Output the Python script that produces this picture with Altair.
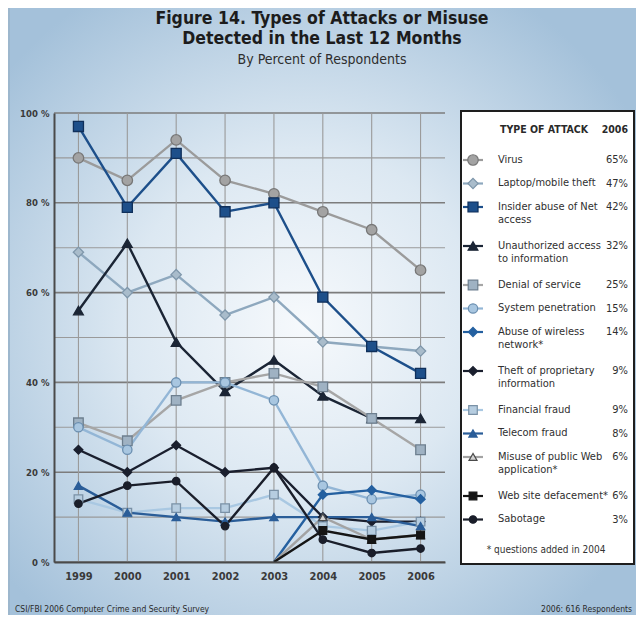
import altair as alt
import pandas as pd

# ---------------- data ----------------
years = [1999, 2000, 2001, 2002, 2003, 2004, 2005, 2006]
series_names = [
    "Virus", "Laptop/mobile theft", "Insider abuse of Net access",
    "Unauthorized access to information", "Denial of service",
    "System penetration", "Abuse of wireless network*",
    "Theft of proprietary information", "Financial fraud", "Telecom fraud",
    "Misuse of public Web application*", "Web site defacement*", "Sabotage",
]
legend_labels = [
    "Virus", "Laptop/mobile theft", "Insider abuse of Net\naccess",
    "Unauthorized access\nto information", "Denial of service",
    "System penetration", "Abuse of wireless\nnetwork*",
    "Theft of proprietary\ninformation", "Financial fraud", "Telecom fraud",
    "Misuse of public Web\napplication*", "Web site defacement*", "Sabotage",
]
N = None
virus        = [90, 85, 94, 85, 82, 78, 74, 65]
laptop       = [69, 60, 64, 55, 59, 49, 48, 47]
insider      = [97, 79, 91, 78, 80, 59, 48, 42]
unauthorized = [56, 71, 49, 38, 45, 37, 32, 32]
dos          = [31, 27, 36, 40, 42, 39, 32, 25]
penetration  = [30, 25, 40, 40, 36, 17, 14, 15]
wireless     = [N, N, N, N, 0, 15, 16, 14]
proprietary  = [25, 20, 26, 20, 21, 10, 9, 9]
financial    = [14, 11, 12, 12, 15, 8, 7, 9]
telecom      = [17, 11, 10, 9, 10, 10, 10, 8]
misuse_web   = [N, N, N, N, 0, 10, 5, 6]
defacement   = [N, N, N, N, 0, 7, 5, 6]
sabotage     = [13, 17, 18, 8, 21, 5, 2, 3]
values_2006 = ["65%", "47%", "42%", "32%", "25%", "15%", "14%", "9%", "9%", "8%", "6%", "6%", "3%"]
y_ticks = [0, 10, 20, 30, 40, 50, 60, 70, 80, 90, 100]

all_series = [virus, laptop, insider, unauthorized, dos, penetration, wireless,
              proprietary, financial, telecom, misuse_web, defacement, sabotage]

# ---------------- styles ----------------
line_colors = ["#9b9b9b", "#8ea8be", "#1d4f8a", "#1b2535", "#a6a6a6", "#93b6d6",
               "#2460a0", "#1a1f2e", "#a9c8e2", "#2a5d98", "#a3a3a3", "#151515", "#1a1e2a"]
fill_colors = ["#a3a3a3", "#a9bccb", "#1d4f8a", "#1b2535", "#9fb2c3", "#a8c6e0",
               "#2460a0", "#1a1f2e", "#b6cde0", "#2a5d98", "#d3d3d3", "#151515", "#1a1e2a"]
edge_colors = ["#777777", "#7f97ab", "#0f2f5a", "#1b2535", "#6d7f8f", "#6b8fb0",
               "#2460a0", "#1a1f2e", "#7a91a6", "#2a5d98", "#4a4a4a", "#151515", "#1a1e2a"]
shapes = ["circle", "diamond", "square", "triangle-up", "square", "circle", "diamond",
          "diamond", "square", "triangle-up", "triangle-up", "square", "circle"]
sizes = [110, 55, 120, 90, 115, 115, 60, 55, 110, 80, 80, 100, 100]

FONT = "Liberation Sans Narrow, DejaVu Sans Condensed, Arial Narrow, sans-serif"

rows = []
for name, vals in zip(series_names, all_series):
    for yr, v in zip(years, vals):
        if v is not None:
            rows.append({"series": name, "year": yr, "value": v})
df = pd.DataFrame(rows)

W, H = 391, 449
xscale = alt.Scale(domain=[1998.5, 2006.5], nice=False, zero=False)
yscale = alt.Scale(domain=[0, 100], nice=False, zero=False)

ax_x = alt.Axis(values=years, format="d", title=None, grid=False, ticks=False,
                domainColor="#4a4a4a", domainWidth=2, labelFont=FONT, labelFontWeight="bold",
                labelFontSize=11, labelColor="#3a3a3a", labelPadding=8, zindex=1)
ax_y = alt.Axis(values=y_ticks, title=None, grid=False, ticks=False,
                labelExpr="datum.value % 20 == 0 ? datum.value + ' %' : ''",
                domainColor="#4a4a4a", domainWidth=2, labelFont=FONT, labelFontWeight="bold",
                labelFontSize=9.5, labelColor="#3a3a3a", labelPadding=5, zindex=1)

color_enc = alt.Color("series:N", scale=alt.Scale(domain=series_names, range=line_colors), legend=None)
fill_enc = alt.Fill("series:N", scale=alt.Scale(domain=series_names, range=fill_colors), legend=None)
stroke_enc = alt.Stroke("series:N", scale=alt.Scale(domain=series_names, range=edge_colors), legend=None)
shape_enc = alt.Shape("series:N", scale=alt.Scale(domain=series_names, range=shapes), legend=None)
size_enc = alt.Size("series:O", scale=alt.Scale(domain=series_names, range=sizes), legend=None)

# background gradient covering the whole canvas
bg = alt.Chart(pd.DataFrame({"a": [0]})).mark_rect(
    fill={"gradient": "radial", "x1": 0.47, "y1": 0.52, "r1": 0.0,
          "x2": 0.47, "y2": 0.52, "r2": 0.62,
          "stops": [{"offset": 0, "color": "#f6f9fc"},
                    {"offset": 0.45, "color": "#dce8f2"},
                    {"offset": 1, "color": "#a4c1da"}]}
).encode(x=alt.value(-46), x2=alt.value(582), y=alt.value(-105), y2=alt.value(502))

left_strip = alt.Chart(pd.DataFrame({"a": [0]})).mark_rect(color="#9db7cd").encode(
    x=alt.value(-46), x2=alt.value(-44), y=alt.value(-105), y2=alt.value(502))

hgrid = alt.Chart(pd.DataFrame({"value": y_ticks})).mark_rule().encode(
    y=alt.Y("value:Q", scale=yscale, axis=ax_y),
    color=alt.condition("datum.value % 20 == 0", alt.value("#7c7c7c"), alt.value("#9a9a9a")),
    strokeWidth=alt.condition("datum.value % 20 == 0", alt.value(1.6), alt.value(1.1)),
)
vgrid = alt.Chart(pd.DataFrame({"year": years})).mark_rule(color="#9a9a9a", strokeWidth=1.1).encode(
    x=alt.X("year:Q", scale=xscale, axis=ax_x))

lines = alt.Chart(df).mark_line(strokeWidth=2.4).encode(
    x=alt.X("year:Q", scale=xscale, axis=ax_x),
    y=alt.Y("value:Q", scale=yscale, axis=ax_y),
    color=color_enc,
    detail="series:N",
    order="year:Q",
)
points = alt.Chart(df).transform_filter("datum.value > 0").mark_point(
    filled=True, opacity=1, strokeWidth=1.3).encode(
    x=alt.X("year:Q", scale=xscale, axis=ax_x),
    y=alt.Y("value:Q", scale=yscale, axis=ax_y),
    fill=fill_enc, stroke=stroke_enc, shape=shape_enc, size=size_enc,
)

main = alt.layer(bg, left_strip, hgrid, vgrid, lines, points)

# ---------------- legend panel ----------------
n_lines = [lbl.count("\n") + 1 for lbl in legend_labels]
ly = []
pos = 47.0
for k in n_lines:
    ly.append(pos)
    pos += 23.5 if k == 1 else 39.0
leg = pd.DataFrame({"series": series_names, "label": legend_labels,
                    "v2006": values_2006, "ly": ly})
lscale = alt.Scale(domain=[0, H], range=[0, H], nice=False, zero=False)

box = alt.Chart(pd.DataFrame({"a": [0]})).mark_rect(
    fill="white", stroke="#1e1e1e", strokeWidth=2).encode(
    x=alt.value(407), x2=alt.value(580), y=alt.value(-2), y2=alt.value(451))

hdr = alt.Chart(pd.DataFrame({"t": ["TYPE OF ATTACK"]})).mark_text(
    font=FONT, fontSize=10.5, fontWeight="bold", color="#2a2a2a", align="left", baseline="middle"
).encode(text="t:N", x=alt.value(446), y=alt.value(17))
hdr2 = alt.Chart(pd.DataFrame({"t": ["2006"]})).mark_text(
    font=FONT, fontSize=10.5, fontWeight="bold", color="#2a2a2a", align="right", baseline="middle"
).encode(text="t:N", x=alt.value(574), y=alt.value(17))
foot_note = alt.Chart(pd.DataFrame({"t": ["* questions added in 2004"]})).mark_text(
    font=FONT, fontSize=10, color="#333333", align="center", baseline="middle"
).encode(text="t:N", x=alt.value(492), y=alt.value(437))

lrule = alt.Chart(leg).mark_rule(strokeWidth=2.2).encode(
    x=alt.value(409), x2=alt.value(429),
    y=alt.Y("ly:Q", scale=lscale, axis=None), color=color_enc)
lpoint = alt.Chart(leg).mark_point(filled=True, opacity=1, strokeWidth=1.2).encode(
    x=alt.value(419), y=alt.Y("ly:Q", scale=lscale, axis=None),
    fill=fill_enc, stroke=stroke_enc, shape=shape_enc,
    size=alt.Size("series:O", scale=alt.Scale(domain=series_names, range=[s * 0.7 for s in sizes]), legend=None))
ltext = alt.Chart(leg).mark_text(
    font=FONT, fontSize=11, color="#2f2f2f", align="left", baseline="top",
    lineBreak="\n", lineHeight=13.5, dy=-6.5).encode(
    x=alt.value(444), y=alt.Y("ly:Q", scale=lscale, axis=None), text="label:N")
lval = alt.Chart(leg).mark_text(
    font=FONT, fontSize=11, color="#2f2f2f", align="right", baseline="middle").encode(
    x=alt.value(574), y=alt.Y("ly:Q", scale=lscale, axis=None), text="v2006:N")

legend_layer = alt.layer(box, hdr, hdr2, foot_note, lrule, lpoint, ltext, lval)

# ---------------- titles & footer ----------------
def txt(s, x, y, size, weight="normal", align="center", color="#1c1c1c"):
    return alt.Chart(pd.DataFrame({"t": [s]})).mark_text(
        font=FONT, fontSize=size, fontWeight=weight, color=color, align=align, baseline="middle"
    ).encode(text="t:N", x=alt.value(x), y=alt.value(y))

titles = alt.layer(
    txt("Figure 14. Types of Attacks or Misuse", 268, -94, 17.5, "bold"),
    txt("Detected in the Last 12 Months", 268, -74, 17.5, "bold"),
    txt("By Percent of Respondents", 268, -53, 14, "normal", color="#2e2e2e"),
    txt("CSI/FBI 2006 Computer Crime and Security Survey", -39, 496, 8.5, align="left", color="#2a2a2a"),
    txt("2006: 616 Respondents", 578, 496, 8.5, align="right", color="#2a2a2a"),
)

chart = alt.layer(main, legend_layer, titles).resolve_scale(
    x="independent", y="independent"
).properties(
    width=W, height=H,
    autosize=alt.AutoSizeParams(type="none"),
    padding={"left": 46, "top": 105, "right": 191, "bottom": 53},
).configure_view(stroke="#8a8a8a", strokeWidth=1.4)

chart.save("out.html", embed_options={"renderer": "svg", "actions": False})
